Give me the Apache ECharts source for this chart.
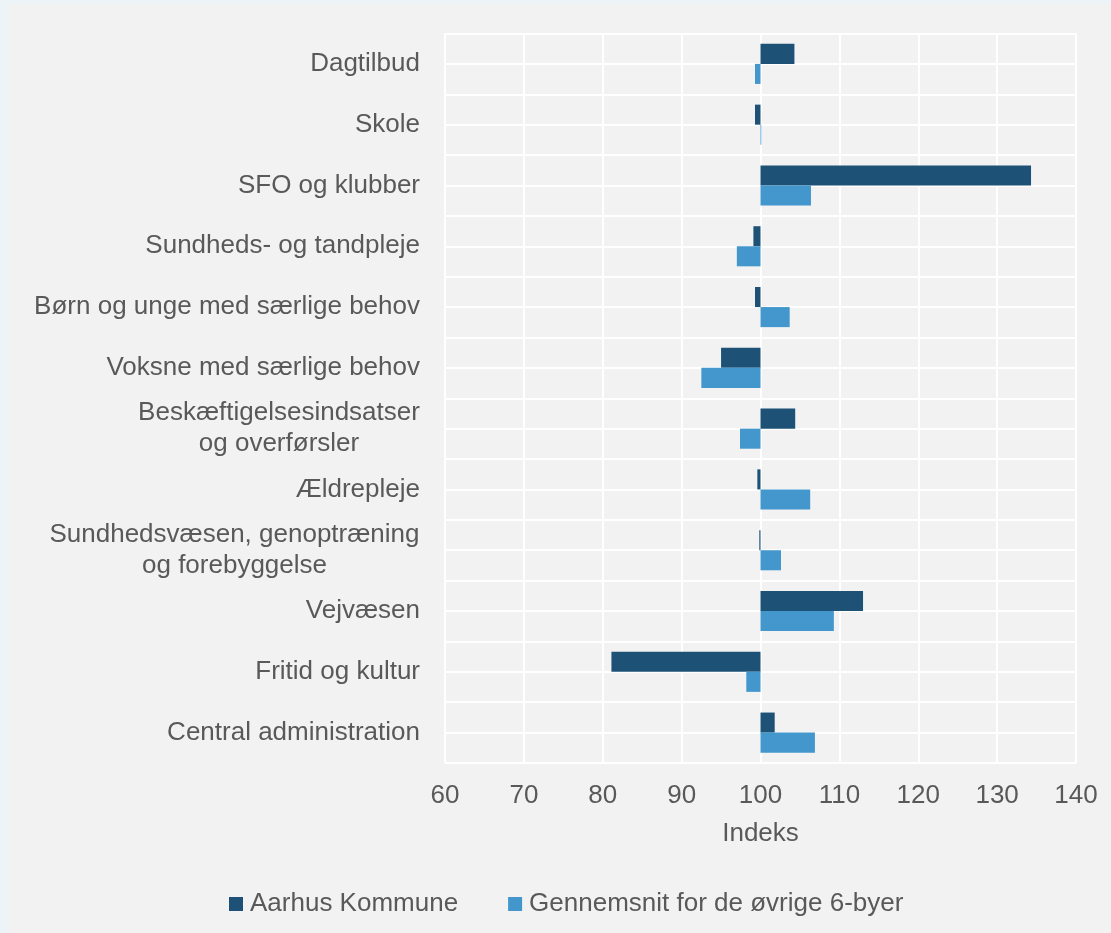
<!DOCTYPE html>
<html>
<head>
<meta charset="utf-8">
<script src="https://cdn.jsdelivr.net/npm/echarts@6/dist/echarts.min.js"></script>
<style>
  html, body { margin: 0; padding: 0; background: #edf4f8; }
  #panel { position: absolute; left: 8px; top: 4px; width: 1103px; height: 929px; background: #f2f2f2; }
  #chart { position: absolute; left: 0; top: 0; width: 1111px; height: 933px; }
</style>
</head>
<body>
<div id="panel"></div>
<div id="chart"></div>
<script>
// kategorier (top -> bund)
const categories = [
  'Dagtilbud',
  'Skole',
  'SFO og klubber',
  'Sundheds- og tandpleje',
  'Børn og unge med særlige behov',
  'Voksne med særlige behov',
  'Beskæftigelsesindsatser\nog overførsler',
  'Ældrepleje',
  'Sundhedsvæsen, genoptræning\nog forebyggelse',
  'Vejvæsen',
  'Fritid og kultur',
  'Central administration',
];

// indeks-værdier
const aarhus = [104.3, 99.3, 134.3, 99.1, 99.3, 95.0, 104.4, 99.6, 99.85, 113.0, 81.1, 101.8];
const oevrige = [99.3, 100.1, 106.4, 97.0, 103.7, 92.5, 97.4, 106.3, 102.6, 109.3, 98.2, 106.9];

const xTicks = [60, 70, 80, 90, 100, 110, 120, 130, 140];
const baseIndex = 100;

const FONT = "'Liberation Sans', Arial, sans-serif";
const textColor = '#595959';

// mål tekstbredde så flerlinjede labels kan centreres inde i blokken
const ctx = document.createElement('canvas').getContext('2d');
ctx.font = '26px ' + FONT;
const rich = {};
const labelText = {};
categories.forEach((c, i) => {
  const lines = c.split('\n');
  if (lines.length === 1) {
    labelText[c] = c;
    return;
  }
  const w = Math.ceil(Math.max(...lines.map((l) => ctx.measureText(l).width)));
  const key = 'l' + i;
  rich[key] = { width: w, align: 'center', fontSize: 26, lineHeight: 31, color: textColor, fontFamily: FONT };
  labelText[c] = lines.map((l) => '{' + key + '|' + l + '}').join('\n');
});

const chart = echarts.init(document.getElementById('chart'));

const option = {
  backgroundColor: 'transparent',
  textStyle: { fontFamily: FONT },
  grid: {
    left: 445,
    right: 35,
    top: 33.5,
    bottom: 170,
  },
  legend: {
    left: 224,
    top: 886,
    itemWidth: 14,
    itemHeight: 14,
    itemGap: 50,
    icon: 'rect',
    textStyle: { fontSize: 26, color: textColor, fontFamily: FONT, padding: [0, 0, 0, 2] },
    data: ['Aarhus Kommune', 'Gennemsnit for de øvrige 6-byer'],
  },
  xAxis: {
    type: 'value',
    min: xTicks[0] - baseIndex,
    max: xTicks[xTicks.length - 1] - baseIndex,
    interval: 10,
    name: 'Indeks',
    nameLocation: 'middle',
    nameGap: 58,
    nameTextStyle: { fontSize: 26, color: textColor, fontFamily: FONT },
    axisLine: { show: false },
    axisTick: { show: false },
    axisLabel: {
      fontSize: 26,
      color: textColor,
      margin: 20,
      formatter: (v) => String(v + baseIndex),
    },
    splitLine: { show: true, lineStyle: { color: '#ffffff', width: 2 } },
  },
  yAxis: [
    {
      type: 'category',
      inverse: true,
      data: categories,
      axisLine: { show: false },
      axisTick: { show: false },
      splitLine: { show: false },
      axisLabel: {
        fontSize: 26,
        lineHeight: 31,
        color: textColor,
        margin: 25,
        align: 'right',
        formatter: (v) => labelText[v],
        rich: rich,
      },
    },
    {
      // hjælpeakse til de vandrette gitterlinjer (halve kategorier)
      type: 'value',
      min: 0,
      max: categories.length * 2,
      interval: 1,
      position: 'left',
      axisLine: { show: false },
      axisTick: { show: false },
      axisLabel: { show: false },
      splitLine: { show: true, lineStyle: { color: '#ffffff', width: 2 } },
    },
  ],
  series: [
    {
      name: 'Aarhus Kommune',
      type: 'bar',
      yAxisIndex: 0,
      data: aarhus.map((v) => +(v - baseIndex).toFixed(2)),
      barGap: '0%',
      barCategoryGap: '34%',
      itemStyle: { color: '#1d5276' },
      silent: true,
    },
    {
      name: 'Gennemsnit for de øvrige 6-byer',
      type: 'bar',
      yAxisIndex: 0,
      data: oevrige.map((v) => +(v - baseIndex).toFixed(2)),
      barGap: '0%',
      barCategoryGap: '34%',
      itemStyle: { color: '#4397cd' },
      silent: true,
    },
  ],
};

chart.setOption(option);
</script>
</body>
</html>
